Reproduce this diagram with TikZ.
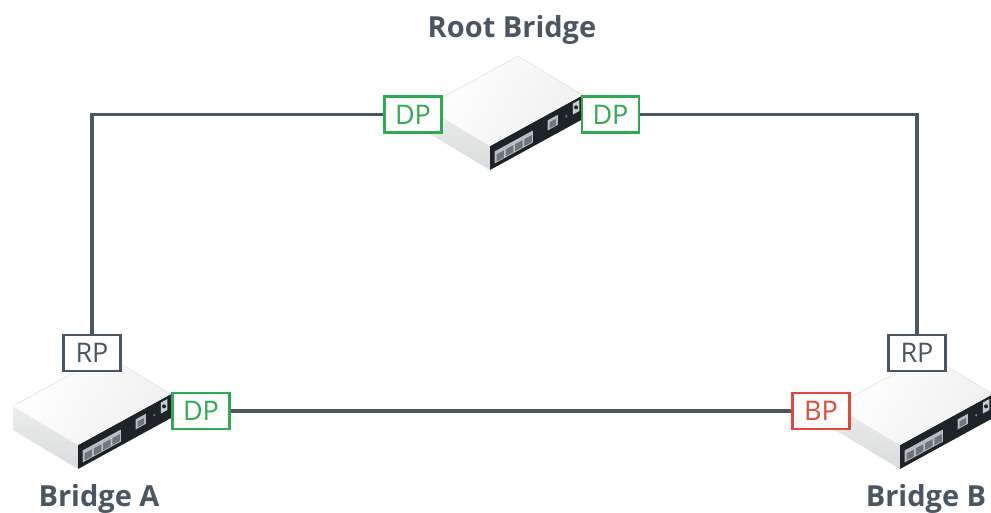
\documentclass[tikz,border=0pt]{standalone}
\usepackage{fontspec}
\setmainfont{Open Sans}
\newfontfamily\titlefont{Open Sans}
\definecolor{slate}{HTML}{4A5763}
\definecolor{portgreen}{HTML}{2FAA4F}
\definecolor{portred}{HTML}{E5483A}
\definecolor{frontdark}{HTML}{1D2328}
\definecolor{sidegray}{HTML}{D9DBDC}
\definecolor{topwhite}{HTML}{FAFAFA}
\definecolor{jackgray}{HTML}{B9BEC1}
\definecolor{holegray}{HTML}{6E767B}
\tikzset{
  portbox/.style={draw, line width=2.6pt, fill=white, minimum width=57pt,
    minimum height=36pt, inner sep=0pt, font=\fontsize{27}{31}\selectfont},
  rootport/.style={portbox, draw=slate, text=slate},
  desigport/.style={portbox, draw=portgreen, text=portgreen},
  blockport/.style={portbox, draw=portred, text=portred},
  title/.style={text=slate, font=\titlefont\bfseries\fontsize{29}{34}\selectfont},
  link/.style={draw=slate, line width=3.6pt},
  switchbox/.pic={
    % left side, front panel and lid of the box
    \shade[top color=sidegray!50, bottom color=sidegray]
      (-65,-39) -- (0,0) -- (0,24) -- (-65,-15) -- cycle;
    \fill[frontdark] (0,0) -- (93,-51) -- (93,-27) -- (0,24) -- cycle;
    \shade[left color=white, right color=topwhite!96!black, shading angle=60]
      (-65,-39) -- (28,-90) -- (93,-51) -- (0,0) -- cycle;
    \draw[white!88!black, line width=0.5pt] (-65,-39) -- (28,-90) -- (93,-51);
    % connectors on the front panel
    \begin{scope}[x={(93pt,51pt)}, y={(0pt,-1pt)}]
      \fill[jackgray] (0.05,8) -- (0.46,8) -- (0.46,20) -- (0.05,20) -- cycle;
      \foreach \u in {0.07,0.17,0.27,0.37}
        \fill[holegray] (\u,12) -- (\u+0.08,12) -- (\u+0.08,19) -- (\u,19) -- cycle;
      \fill[jackgray] (0.62,6) -- (0.73,6) -- (0.73,16) -- (0.62,16) -- cycle;
      \fill[holegray] (0.64,9) -- (0.71,9) -- (0.71,15) -- (0.64,15) -- cycle;
      \fill[holegray] (0.82,12) circle (1.3pt);
      \fill[jackgray!80!white] (0.89,3) -- (0.96,3) -- (0.96,14) -- (0.89,14) -- cycle;
      \fill[frontdark] (0.925,8.5) circle (2pt);
    \end{scope}
  }
}
\begin{document}
\begin{tikzpicture}[x=1pt, y=-1pt]
  \useasboundingbox[fill=white] (0,0) rectangle (991,512);

  % the three bridges
  \pic at (490,146) {switchbox};
  \pic at (78,445) {switchbox};
  \pic at (900,445) {switchbox};

  % port roles
  \node[desigport] (rootL) at (413,114.5) {DP};
  \node[desigport] (rootR) at (610.5,114.5) {DP};
  \node[rootport]  (aRP)   at (92,353) {RP};
  \node[desigport] (aDP)   at (201,411) {DP};
  \node[rootport]  (bRP)   at (917,353) {RP};
  \node[blockport] (bBP)   at (821,411) {BP};

  % links between the bridges
  \draw[link] (rootL.west) -| (aRP.north);
  \draw[link] (rootR.east) -| (bRP.north);
  \draw[link] (aDP.east) -- (bBP.west);

  % bridge names
  \node[title] (tRoot) at (512,30) {Root Bridge};
  \node[title] (tA) at (99,499) {Bridge A};
  \node[title] (tB) at (926,499) {Bridge B};
\end{tikzpicture}
\end{document}
